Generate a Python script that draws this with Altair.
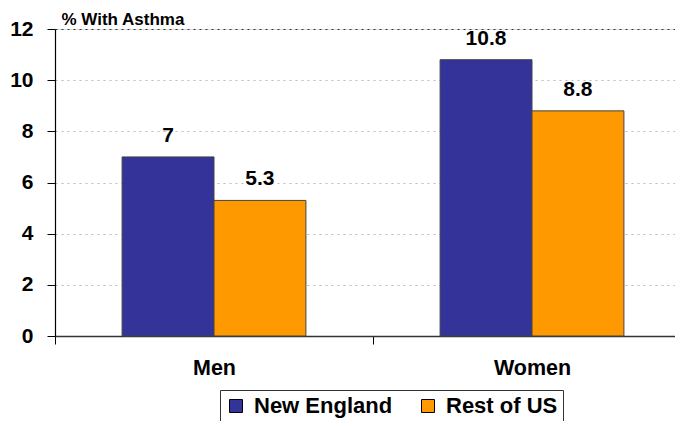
import altair as alt
import pandas as pd

categories = ["Men", "Women"]
series = ["New England", "Rest of US"]
new_england = [7, 10.8]
rest_of_us = [5.3, 8.8]
y_ticks = [0, 2, 4, 6, 8, 10, 12]
colors = ["#333399", "#FF9900"]

rows = []
for i, c in enumerate(categories):
    rows.append({"group": c, "series": series[0], "value": new_england[i], "label": str(new_england[i])})
    rows.append({"group": c, "series": series[1], "value": rest_of_us[i], "label": str(rest_of_us[i])})
df = pd.DataFrame(rows)

FONT = "Liberation Sans"

x = alt.X("group:N", sort=categories,
          scale=alt.Scale(range=[0, 636], paddingInner=0, paddingOuter=0),
          axis=alt.Axis(title=None, labelAngle=0, labelFontSize=21.5, labelFontWeight="bold",
                        labelFont=FONT, labelColor="black", labelPadding=13,
                        tickBand="extent", tickSize=8, tickColor="black",
                        domainColor="#333", domainWidth=1.5, grid=False))
xoff = alt.XOffset("series:N", sort=series,
                   scale=alt.Scale(paddingOuter=0.73, paddingInner=0))
y = alt.Y("value:Q",
          scale=alt.Scale(domain=[0, 12], nice=False),
          axis=alt.Axis(values=y_ticks, title="% With Asthma", titleAngle=0,
                        titleAlign="left", titleBaseline="alphabetic", titleX=6, titleY=-5,
                        titleFontSize=17, titleFont=FONT, titleFontWeight="bold", titleColor="black",
                        labelFontSize=21, labelFontWeight="bold", labelFont=FONT, labelColor="black",
                        labelPadding=14, tickSize=8, tickColor="black",
                        domainColor="black", domainWidth=1.2,
                        grid=True,
                        gridColor=alt.condition("datum.value === 12", alt.value("#333"), alt.value("#bbbbbb")),
                        gridDash=[2, 4], gridWidth=1))

bars = alt.Chart(df).mark_bar(stroke="#444", strokeWidth=1).encode(
    x=x, xOffset=xoff, y=y,
    color=alt.Color("series:N", sort=series,
                    scale=alt.Scale(domain=series, range=colors),
                    legend=alt.Legend(title=None, orient="none", direction="horizontal",
                                      legendX=165, legendY=361,
                                      labelFont=FONT, labelFontSize=22, labelFontWeight="bold",
                                      labelColor="black", symbolType="square", symbolSize=169,
                                      symbolStrokeColor="black", symbolStrokeWidth=1,
                                      strokeColor="#333", padding=5, columnPadding=24,
                                      labelOffset=7)),
)

text = alt.Chart(df).mark_text(font=FONT, fontSize=21, fontWeight="bold", baseline="alphabetic",
                               dy=-15, color="black").encode(
    x=x, xOffset=xoff, y=y, text="label:N")

chart = alt.layer(bars, text).properties(
    width=620, height=307,
    autosize=alt.AutoSizeParams(type="none"),
    padding={"left": 47, "top": 21, "right": 0, "bottom": 85},
).configure_view(stroke=None).configure(background="white")

chart.save("out.html", embed_options={"renderer": "svg", "actions": False})
